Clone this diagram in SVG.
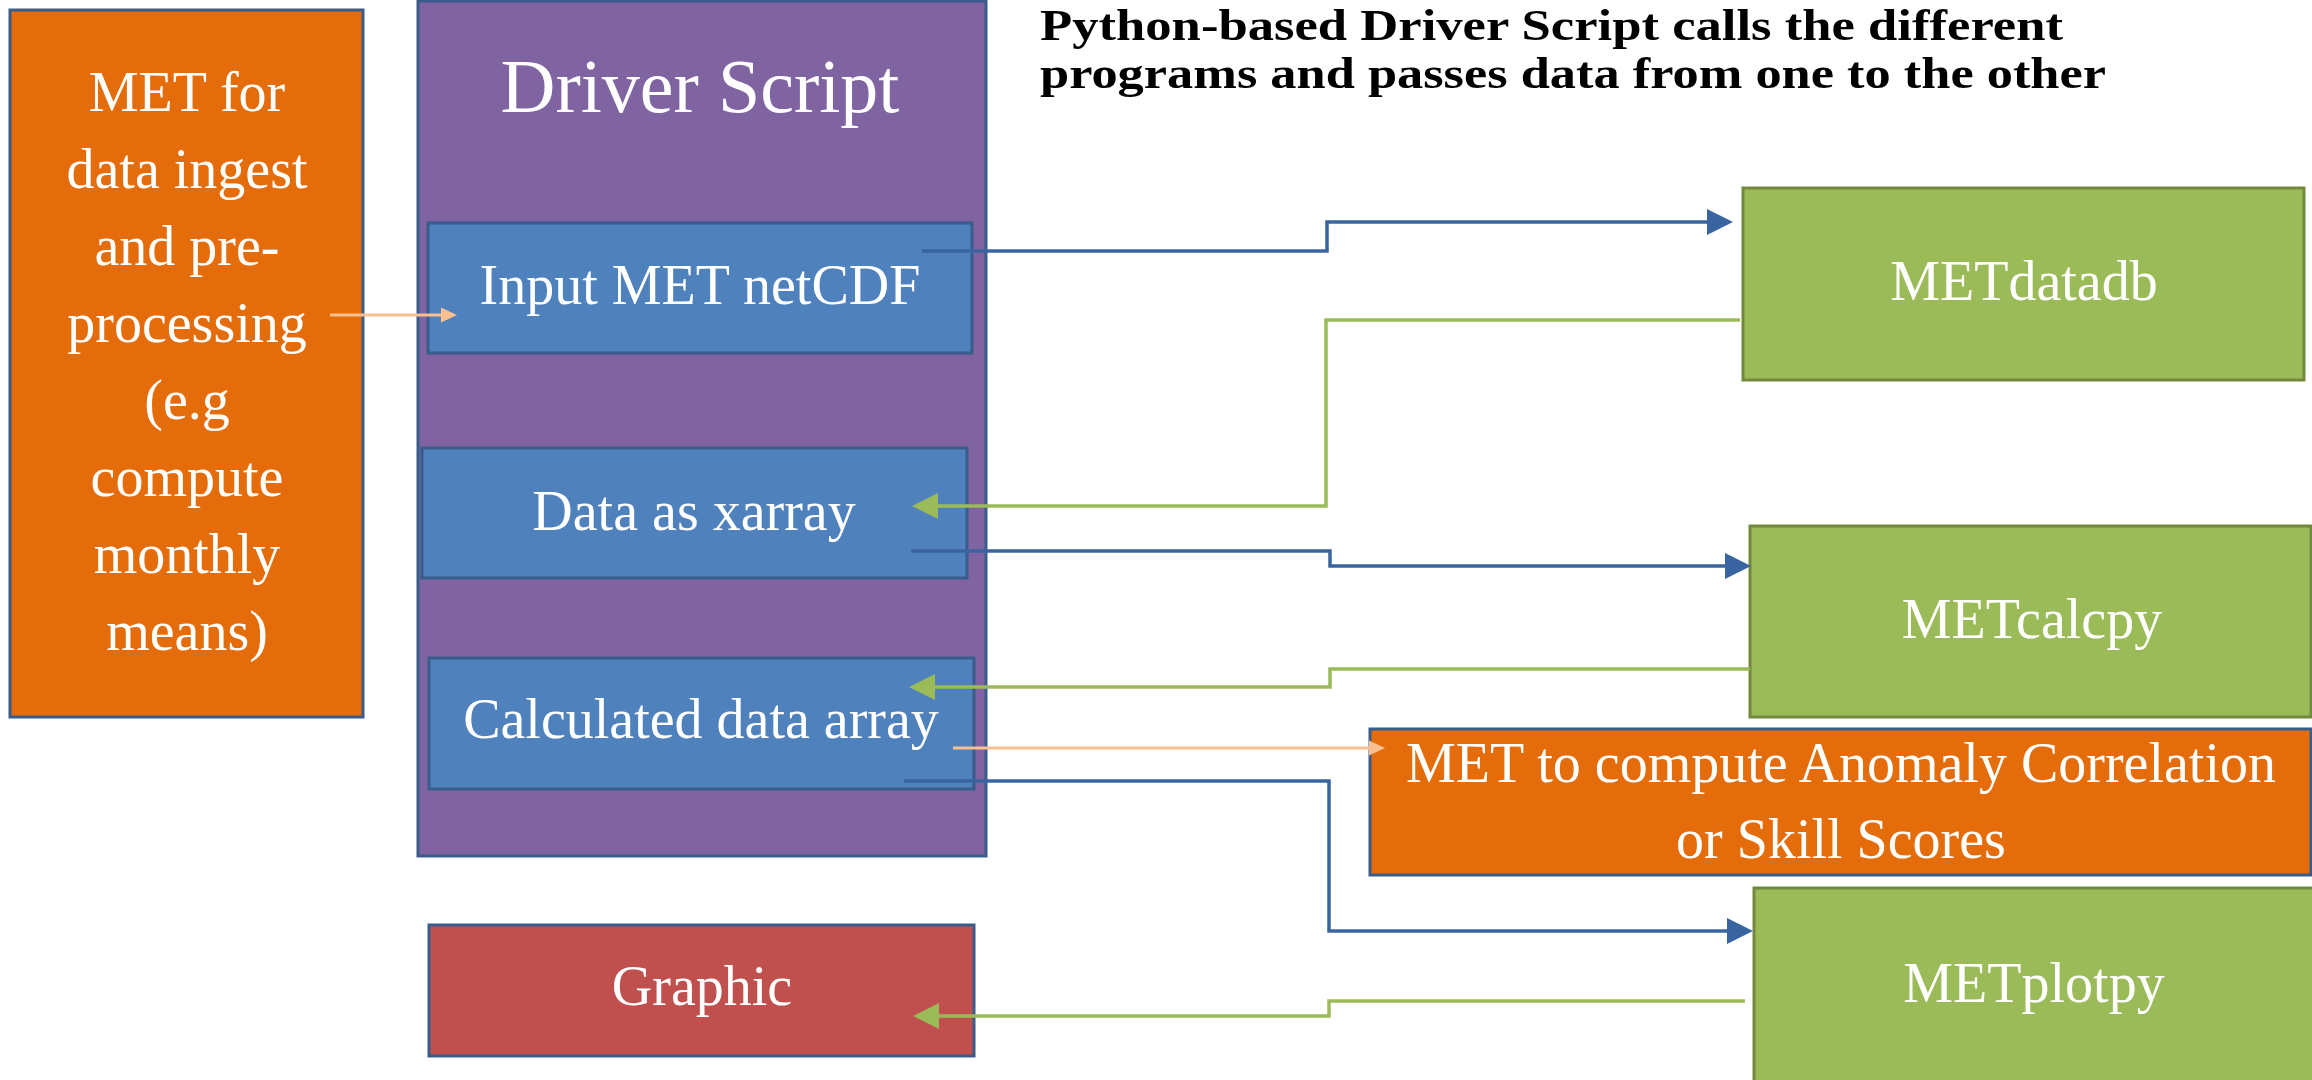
<svg xmlns="http://www.w3.org/2000/svg" width="2312" height="1080" viewBox="0 0 2312 1080">
<style>
.lbl{font-family:"Liberation Serif","Times New Roman",serif;font-size:56px;fill:#fff;text-anchor:middle}
.box{stroke:#385D8A;stroke-width:3}
.org{fill:#E46C0A}
.pur{fill:#8064A2}
.blu{fill:#4F81BD}
.red{fill:#C0504D}
.grn{fill:#9BBB59;stroke:#71893F;stroke-width:3}
.title{font-family:"Liberation Serif","Times New Roman",serif;font-size:44px;font-weight:bold;fill:#000}
.cb{fill:none;stroke:#3A64A0;stroke-width:3.5}
.cg{fill:none;stroke:#9BBB59;stroke-width:3.5}
.cp{fill:none;stroke:#FAC090;stroke-width:3}
</style>
<defs>
<marker id="ab" markerUnits="userSpaceOnUse" markerWidth="26" markerHeight="26" refX="13" refY="13" orient="auto"><path d="M0,0 L26,13 L0,26 Z" fill="#3A64A0"/></marker>
<marker id="ag" markerUnits="userSpaceOnUse" markerWidth="26" markerHeight="26" refX="13" refY="13" orient="auto"><path d="M0,0 L26,13 L0,26 Z" fill="#9BBB59"/></marker>
<marker id="ap" markerUnits="userSpaceOnUse" markerWidth="16" markerHeight="16" refX="8" refY="8" orient="auto"><path d="M0,0.5 L16,8 L0,15.5 Z" fill="#FAC090"/></marker>
</defs>
<g id="title">
<text class="title" x="1040" y="40" textLength="1023" lengthAdjust="spacingAndGlyphs">Python-based Driver Script calls the different</text>
<text class="title" x="1040" y="88" textLength="1066" lengthAdjust="spacingAndGlyphs">programs and passes data from one to the other</text>
</g>
<g id="met-ingest">
<rect class="box org" x="10" y="10" width="353" height="707"/>
<text class="lbl" x="187" y="111">MET for</text>
<text class="lbl" x="187" y="188">data ingest</text>
<text class="lbl" x="187" y="265">and pre-</text>
<text class="lbl" x="187" y="342">processing</text>
<text class="lbl" x="187" y="419">(e.g</text>
<text class="lbl" x="187" y="496">compute</text>
<text class="lbl" x="187" y="573">monthly</text>
<text class="lbl" x="187" y="650">means)</text>
</g>
<g id="driver-script">
<rect class="box pur" x="418" y="1" width="568" height="855"/>
<text class="lbl" x="700" y="112" style="font-size:76px">Driver Script</text>
</g>
<g id="input-met">
<rect class="box blu" x="428" y="223" width="544" height="130"/>
<text class="lbl" x="700" y="304">Input MET netCDF</text>
</g>
<g id="data-xarray">
<rect class="box blu" x="422" y="448" width="545" height="130"/>
<text class="lbl" x="694" y="530">Data as xarray</text>
</g>
<g id="calc-array">
<rect class="box blu" x="429" y="658" width="545" height="131"/>
<text class="lbl" x="701" y="738">Calculated data array</text>
</g>
<g id="graphic">
<rect class="box red" x="429" y="925" width="545" height="131"/>
<text class="lbl" x="702" y="1005">Graphic</text>
</g>
<g id="metdatadb">
<rect class="grn" x="1743" y="188" width="561" height="192"/>
<text class="lbl" x="2024" y="300">METdatadb</text>
</g>
<g id="metcalcpy">
<rect class="grn" x="1750" y="526" width="561" height="191"/>
<text class="lbl" x="2032" y="638">METcalcpy</text>
</g>
<g id="met-compute">
<rect class="box org" x="1370" y="729" width="941" height="146"/>
<text class="lbl" x="1841" y="782">MET to compute Anomaly Correlation</text>
<text class="lbl" x="1841" y="858">or Skill Scores</text>
</g>
<g id="metplotpy">
<rect class="grn" x="1754" y="888" width="570" height="200"/>
<text class="lbl" x="2034" y="1002">METplotpy</text>
</g>
<g id="connectors">
<path class="cp" d="M330,315 H449" marker-end="url(#ap)"/>
<path class="cb" d="M922,251 H1327 V222 H1720" marker-end="url(#ab)"/>
<path class="cg" d="M1740,320 H1326 V506 H925" marker-end="url(#ag)"/>
<path class="cb" d="M911,551 H1330 V566 H1738" marker-end="url(#ab)"/>
<path class="cg" d="M1750,669 H1330 V687 H922" marker-end="url(#ag)"/>
<path class="cp" d="M953,748 H1377" marker-end="url(#ap)"/>
<path class="cb" d="M904,781 H1329 V931 H1740" marker-end="url(#ab)"/>
<path class="cg" d="M1745,1001 H1329 V1016 H926" marker-end="url(#ag)"/>
</g>
</svg>
